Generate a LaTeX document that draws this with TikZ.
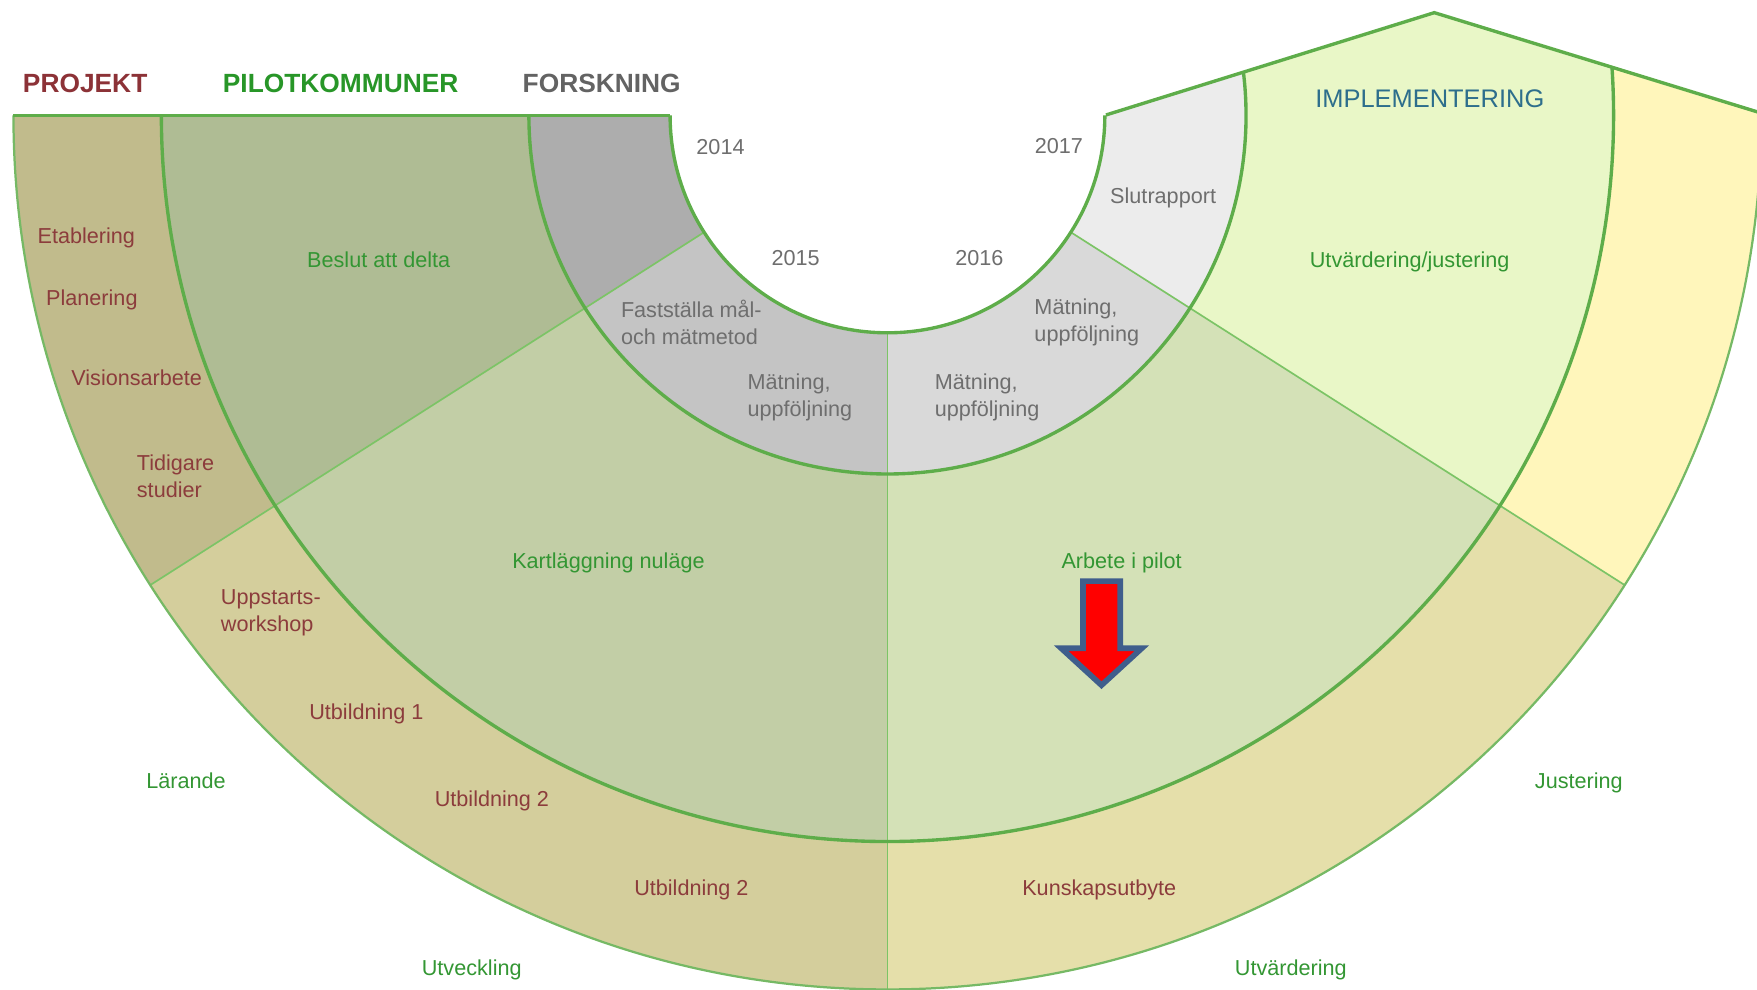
\documentclass[tikz,border=0pt]{standalone}
\usepackage{fontspec}
\setmainfont{Liberation Sans}
\definecolor{cPdark}{HTML}{C1BB8C}
\definecolor{cPlight}{HTML}{D4CE9C}
\definecolor{cPright}{HTML}{E5DFAA}
\definecolor{cYel}{HTML}{FFF6BB}
\definecolor{cGdark}{HTML}{AFBC94}
\definecolor{cGlight}{HTML}{C2CEA6}
\definecolor{cGright}{HTML}{D4E1B7}
\definecolor{cImpl}{HTML}{E9F7C7}
\definecolor{cFdark}{HTML}{ADADAD}
\definecolor{cFmid}{HTML}{C4C4C4}
\definecolor{cFlight}{HTML}{D9D9D9}
\definecolor{cSlut}{HTML}{ECECEC}
\definecolor{lineG}{HTML}{5EAD4A}
\definecolor{lineL}{HTML}{7CC466}
\definecolor{txtRed}{HTML}{8C3C3C}
\definecolor{txtRedB}{HTML}{8C3237}
\definecolor{txtGreen}{HTML}{339633}
\definecolor{txtGreenB}{HTML}{289628}
\definecolor{txtGrey}{HTML}{6E6E6E}
\definecolor{txtBlue}{HTML}{2D6E8C}
\definecolor{arrBorder}{HTML}{3F5E8C}
\newcommand\annsec[5]{\fill[#1] (#2:#4) arc[start angle=#2,end angle=#3,radius=#4] -- (#3:#5) arc[start angle=#3,end angle=#2,radius=#5] -- cycle;}
\begin{document}
\begin{tikzpicture}[x=1pt,y=1pt,
  thickline/.style={draw=lineG,line width=3pt},
  outerline/.style={draw=lineG!85,line width=2pt},
  thinline/.style={draw=lineL,line width=1.5pt},
  txt/.style={font=\fontsize{19.3}{24}\selectfont,inner sep=0pt},
  one/.style={text height=13.9pt,text depth=0pt},
  head/.style={font=\fontsize{23.5}{28}\selectfont\bfseries,inner sep=0pt,text height=16.9pt,text depth=0pt},
  tred/.style={txt,text=txtRed},
  tgreen/.style={txt,text=txtGreen},
  tgrey/.style={txt,text=txtGrey},
  lleft/.style={anchor=west,align=left}]
\useasboundingbox (0,0) rectangle (1568,-883.5);
\clip (0,0) rectangle (1568,-883.5);
\begin{scope}
  \clip (-10,-102.6) -- (987,-102.6) -- (1280,-11.3) -- (1660,-128) -- (1660,-900) -- (-10,-900) -- cycle;
  \begin{scope}[shift={(792,-103)}]
    \annsec{cPdark}{180}{212.5}{648}{780}
    \annsec{cPlight}{212.5}{270}{648}{780}
    \annsec{cPright}{270}{327.5}{648}{780}
    \annsec{cYel}{327.5}{390}{648}{780}
    \annsec{cGdark}{180}{212.5}{320}{648}
    \annsec{cGlight}{212.5}{270}{320}{648}
    \annsec{cGright}{270}{327.5}{320}{648}
    \annsec{cImpl}{327.5}{390}{320}{648}
    \annsec{cFdark}{180}{212.5}{194}{320}
    \annsec{cFmid}{212.5}{270}{194}{320}
    \annsec{cFlight}{270}{327.5}{194}{320}
    \annsec{cSlut}{327.5}{390}{194}{320}
    \draw[thinline] (212.5:194) -- (212.5:780);
    \draw[thinline] (270:194) -- (270:780);
    \draw[thinline] (327.5:194) -- (327.5:780);
    \draw[thickline] (180:194) arc[start angle=180,end angle=360,radius=194];
    \draw[thickline] (180:320) arc[start angle=180,end angle=390,radius=320];
    \draw[thickline] (180:648) arc[start angle=180,end angle=390,radius=648];
    \draw[outerline] (180:780) arc[start angle=180,end angle=390,radius=780];
  \end{scope}
\end{scope}
% top line and roof
\coordinate (tl) at (12,-103);
\coordinate (tr) at (598,-103);
\coordinate (r0) at (987,-102.6);
\coordinate (rp) at (1280,-11.3);
\coordinate (re) at (1660,-128);
\draw[thickline] (tl) -- (tr);
\draw[thickline,line join=miter] (r0) -- (rp) -- (re);
% headers
\node[head,text=txtRedB] (hproj) at (76,-74) {PROJEKT};
\node[head,text=txtGreenB] (hpilot) at (304,-74) {PILOTKOMMUNER};
\node[head,text=txtGrey!90!black] (hfor) at (537,-74) {FORSKNING};
\node[txt,font=\fontsize{22.7}{27}\selectfont,text height=16.3pt,text depth=0pt,text=txtBlue] (himpl) at (1276,-88) {IMPLEMENTERING};
% years
\node[tgrey,one] (y14) at (643,-131) {2014};
\node[tgrey,one] (y15) at (710,-230) {2015};
\node[tgrey,one] (y16) at (874,-230) {2016};
\node[tgrey,one] (y17) at (945,-130) {2017};
% research ring
\node[tgrey,one] (slut) at (1038,-175) {Slutrapport};
\node[tgrey,lleft] (fast) at (554,-288) {Fastställa mål-\\och mätmetod};
\node[tgrey,lleft] (mat1) at (667,-355) {Mätning,\\uppföljning};
\node[tgrey,lleft] (mat2) at (834,-355) {Mätning,\\uppföljning};
\node[tgrey,lleft] (mat3) at (923,-288) {Mätning,\\uppföljning};
% project ring
\node[tred,one] (etab) at (77,-210) {Etablering};
\node[tred,one] (plan) at (82,-266) {Planering};
\node[tred,one] (vis) at (122,-337) {Visionsarbete};
\node[tred,lleft] (tid) at (122,-425) {Tidigare\\studier};
\node[tred,lleft] (upp) at (197,-547) {Uppstarts-\\workshop};
\node[tred,one] (utb1) at (327,-635) {Utbildning 1};
\node[tred,one] (utb2a) at (439,-713) {Utbildning 2};
\node[tred,one] (utb2b) at (617,-792) {Utbildning 2};
\node[tred,one] (kun) at (981,-792) {Kunskapsutbyte};
% pilot ring
\node[tgreen,one] (besl) at (338,-232) {Beslut att delta};
\node[tgreen,one] (kart) at (543,-500) {Kartläggning nuläge};
\node[tgreen,one] (arb) at (1001,-500) {Arbete i pilot};
\node[tgreen,one] (utvj) at (1258,-232) {Utvärdering/justering};
% outer labels
\node[tgreen,one] (lar) at (166,-697) {Lärande};
\node[tgreen,one] (utv) at (421,-864) {Utveckling};
\node[tgreen,one] (utvd) at (1152,-864) {Utvärdering};
\node[tgreen,one] (jus) at (1409,-697) {Justering};
% red arrow
\draw[draw=arrBorder,fill=red,line width=5pt,line join=miter]
  (966.5,-518.6) -- (999.7,-518.6) -- (999.7,-578.5) -- (1019,-578.5) -- (983,-611.5)
  -- (947,-578.5) -- (966.5,-578.5) -- cycle;
\end{tikzpicture}
\end{document}
